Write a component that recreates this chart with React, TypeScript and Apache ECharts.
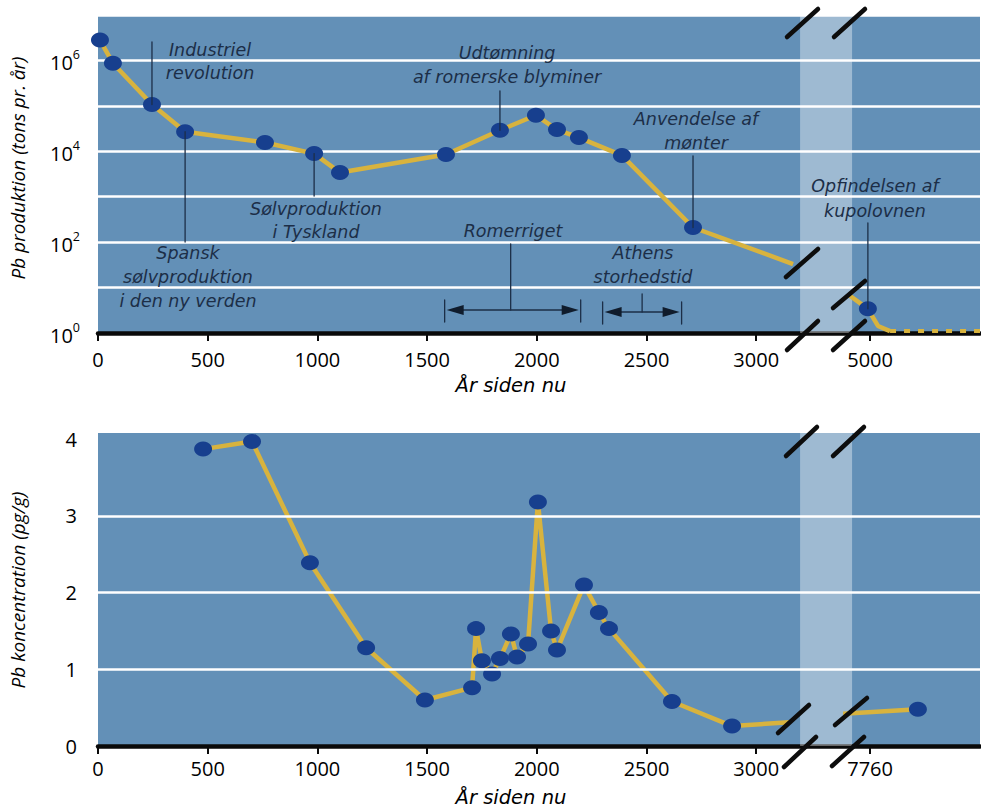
import React, { useEffect, useRef } from 'react';
import * as echarts from 'echarts';

// ---------- data: lead production (tons per year) ----------
const PROD_YEARS = [9, 68, 246, 397, 761, 985, 1103, 1586, 1832, 1996, 2092, 2192, 2388, 2712];
const PROD_VALUES = [2.8e6, 8.7e5, 1.07e5, 2.7e4, 1.56e4, 8.9e3, 3.4e3, 8.5e3, 2.9e4, 6.2e4, 3.0e4, 2.0e4, 8.1e3, 210];
const PROD_LEFT_END = [3168, 33];
const PROD_RIGHT_YEARS = [4908, 4990, 5036, 5091];
const PROD_RIGHT_VALUES = [6.6, 3.4, 1.43, 1.1];
const PROD_RIGHT_MARKER = [false, true, false, false];
const PROD_DOTTED_YEARS = [5091, 5501];
const PROD_DOTTED_VALUES = [1.1, 1.1];

// ---------- data: lead concentration (pg/g) ----------
const CONC_YEARS = [479, 702, 966, 1222, 1490, 1705, 1723, 1750, 1796, 1832, 1882, 1910, 1960, 2005, 2065, 2092, 2215, 2283, 2329, 2616, 2890];
const CONC_VALUES = [3.87, 3.97, 2.39, 1.28, 0.6, 0.76, 1.53, 1.11, 0.94, 1.14, 1.46, 1.16, 1.33, 3.18, 1.5, 1.25, 2.1, 1.74, 1.53, 0.58, 0.26];
const CONC_LEFT_END = [3150, 0.31];
const CONC_RIGHT_YEARS = [7637, 7978];
const CONC_RIGHT_VALUES = [0.42, 0.48];
const CONC_RIGHT_MARKER = [false, true];

// ---------- axes ----------
const X_TICKS_LEFT = [0, 500, 1000, 1500, 2000, 2500, 3000];
const PROD_BREAK_TICK = 5000;
const CONC_BREAK_TICK = 7760;
const PROD_Y_LABEL_EXPONENTS = [0, 2, 4, 6];
const CONC_Y_TICKS = [0, 1, 2, 3, 4];
const CONC_GRID_VALUES = [1, 2, 3];

// ---------- annotations ----------
const ERA_ROMAN = [1580, 2200];
const ERA_ATHENS = [2300, 2660];

// axis break (plot coordinates)
const BREAK_START = 3200;
const BREAK_END = 3437;
const RIGHT_ANCHOR = 3519;
const X_MAX = 4020;

const toPlot = (year: number, breakTick: number) =>
  year <= BREAK_START ? year : year - breakTick + RIGHT_ANCHOR;

const BG = '#6390b7';
const LINE = '#d8b33e';
const DOT = '#173f8e';
const ANN = '#1c2e47';
const FONT = '"Open Sans", "DejaVu Sans", sans-serif';
const ANN_FONT = '"DejaVu Sans", "Open Sans", sans-serif';
const ANN_SIZE = 17.5;

function xAxisFor(gridIndex: number, breakTick: number, margin: number) {
  const ticks = [...X_TICKS_LEFT, RIGHT_ANCHOR];
  return {
    type: 'value',
    gridIndex,
    min: 0,
    max: X_MAX,
    axisLine: { show: true, onZero: false, lineStyle: { color: '#0a0a0a', width: 4.5 } },
    axisTick: { show: true, length: 8, lineStyle: { color: '#0a0a0a', width: 2 }, customValues: ticks },
    axisLabel: {
      customValues: ticks,
      margin,
      color: '#000',
      fontSize: 20,
      fontFamily: FONT,
      formatter: (v: number) => (Math.abs(v - RIGHT_ANCHOR) < 1 ? String(breakTick) : String(v)),
    },
    splitLine: { show: false },
  };
}

function buildOption() {
  const prodLeft = PROD_YEARS.map((y, i) => [toPlot(y, PROD_BREAK_TICK), PROD_VALUES[i]]);
  const prodLeftData: any[] = [
    ...prodLeft,
    { value: [toPlot(PROD_LEFT_END[0], PROD_BREAK_TICK), PROD_LEFT_END[1]], symbol: 'none' },
  ];
  const prodRightData = PROD_RIGHT_YEARS.map((y, i) =>
    PROD_RIGHT_MARKER[i]
      ? [toPlot(y, PROD_BREAK_TICK), PROD_RIGHT_VALUES[i]]
      : { value: [toPlot(y, PROD_BREAK_TICK), PROD_RIGHT_VALUES[i]], symbol: 'none' }
  );
  const prodDotted = PROD_DOTTED_YEARS.map((y, i) => [toPlot(y, PROD_BREAK_TICK), PROD_DOTTED_VALUES[i]]);

  const concLeftData: any[] = [
    ...CONC_YEARS.map((y, i) => [toPlot(y, CONC_BREAK_TICK), CONC_VALUES[i]]),
    { value: [toPlot(CONC_LEFT_END[0], CONC_BREAK_TICK), CONC_LEFT_END[1]], symbol: 'none' },
  ];
  const concRightData = CONC_RIGHT_YEARS.map((y, i) =>
    CONC_RIGHT_MARKER[i]
      ? [toPlot(y, CONC_BREAK_TICK), CONC_RIGHT_VALUES[i]]
      : { value: [toPlot(y, CONC_BREAK_TICK), CONC_RIGHT_VALUES[i]], symbol: 'none' }
  );

  const lineSeries = (xi: number, data: any[], extra: any = {}) => ({
    type: 'line',
    xAxisIndex: xi,
    yAxisIndex: xi,
    data,
    z: 3,
    symbol: 'circle',
    symbolSize: [18, 15],
    itemStyle: { color: DOT },
    lineStyle: { color: LINE, width: 4.5 },
    silent: true,
    ...extra,
  });

  const band = {
    silent: true,
    itemStyle: { color: 'rgba(255,255,255,0.38)' },
    data: [[{ xAxis: BREAK_START }, { xAxis: BREAK_END }]],
  };

  return {
    animation: false,
    grid: [
      { left: 98, top: 15, width: 882, height: 318, show: true, backgroundColor: BG, borderWidth: 0 },
      { left: 98, top: 433, width: 882, height: 313, show: true, backgroundColor: BG, borderWidth: 0 },
    ],
    xAxis: [xAxisFor(0, PROD_BREAK_TICK, 16), xAxisFor(1, CONC_BREAK_TICK, 12)],
    yAxis: [
      {
        type: 'log',
        gridIndex: 0,
        min: 1,
        max: 1e7,
        logBase: 10,
        splitNumber: 7,
        axisLine: { show: false },
        axisTick: { show: false },
        splitLine: { show: true, lineStyle: { color: '#ffffff', width: 2.5 } },
        axisLabel: {
          margin: 18,
          formatter: (v: number) => {
            const e = Math.round(Math.log10(v));
            return PROD_Y_LABEL_EXPONENTS.indexOf(e) >= 0 ? `{b|10}{s|${e}}` : '';
          },
          rich: {
            b: { fontSize: 20, fontFamily: FONT, color: '#000', lineHeight: 24, verticalAlign: 'bottom' },
            s: { fontSize: 12.5, fontFamily: FONT, color: '#000', lineHeight: 12, verticalAlign: 'top' },
          },
        },
      },
      {
        type: 'value',
        gridIndex: 1,
        min: 0,
        max: 4.08,
        axisLine: { show: false },
        axisTick: { show: false },
        splitLine: { show: false },
        axisLabel: {
          customValues: CONC_Y_TICKS,
          margin: 21,
          color: '#000',
          fontSize: 20,
          fontFamily: FONT,
        },
      },
    ],
    series: [
      { type: 'line', xAxisIndex: 0, yAxisIndex: 0, data: [], z: 1, silent: true, markArea: band },
      lineSeries(0, prodLeftData),
      lineSeries(0, prodRightData),
      lineSeries(0, prodDotted, { symbol: 'none', lineStyle: { color: LINE, width: 4, type: [6, 8] } }),
      {
        type: 'line',
        xAxisIndex: 1,
        yAxisIndex: 1,
        data: [],
        z: 1,
        silent: true,
        markArea: band,
        markLine: {
          silent: true,
          symbol: 'none',
          label: { show: false },
          lineStyle: { color: '#ffffff', width: 2.5, type: 'solid' },
          data: CONC_GRID_VALUES.map((v) => ({ yAxis: v })),
        },
      },
      lineSeries(1, concLeftData),
      lineSeries(1, concRightData),
    ],
  };
}

function buildGraphics(chart: any) {
  const P = (g: number, x: number, y: number) => chart.convertToPixel({ gridIndex: g }, [x, y]);
  const els: any[] = [];
  const text = (t: string, x: number, y: number, size = ANN_SIZE, color = ANN, rot = 0, family = ANN_FONT) =>
    els.push({
      type: 'text',
      x,
      y,
      rotation: rot,
      z: 50,
      silent: true,
      style: {
        text: t,
        fill: color,
        fontSize: size,
        fontStyle: 'italic',
        fontFamily: family,
        align: 'center',
        verticalAlign: 'middle',
        textAlign: 'center',
        textVerticalAlign: 'middle',
      },
    });
  const lines = (ts: string[], x: number, ys: number[]) => ts.forEach((t, i) => text(t, x, ys[i]));
  const seg = (x1: number, y1: number, x2: number, y2: number, w = 1.3, color = ANN, z = 40) =>
    els.push({
      type: 'line',
      z,
      silent: true,
      shape: { x1, y1, x2, y2 },
      style: { stroke: color, lineWidth: w, lineCap: 'round' },
    });
  const tri = (pts: number[][]) =>
    els.push({ type: 'polygon', z: 40, silent: true, shape: { points: pts }, style: { fill: '#101c2c' } });

  const prodPt = (i: number) => P(0, toPlot(PROD_YEARS[i], PROD_BREAK_TICK), PROD_VALUES[i]);

  // Industriel revolution
  let p = prodPt(2);
  seg(p[0], 42, p[0], p[1]);
  lines(['Industriel', 'revolution'], 210, [50, 73]);
  // Spansk sølvproduktion
  p = prodPt(3);
  seg(p[0], p[1], p[0], 242);
  lines(['Spansk', 'sølvproduktion', 'i den ny verden'], 188, [253, 277, 301]);
  // Sølvproduktion i Tyskland
  p = prodPt(5);
  seg(p[0], p[1], p[0], 196);
  lines(['Sølvproduktion', 'i Tyskland'], 316, [209, 232]);
  // Udtømning
  p = prodPt(8);
  seg(p[0], 91, p[0], p[1]);
  lines(['Udtømning', 'af romerske blyminer'], 507, [53, 77]);
  // Anvendelse af mønter
  p = prodPt(13);
  seg(p[0], 156, p[0], p[1]);
  lines(['Anvendelse af', 'mønter'], 696, [119, 143]);
  // Opfindelsen af kupolovnen
  const ip = PROD_RIGHT_MARKER.indexOf(true);
  p = P(0, toPlot(PROD_RIGHT_YEARS[ip], PROD_BREAK_TICK), PROD_RIGHT_VALUES[ip]);
  seg(p[0], 223, p[0], p[1]);
  lines(['Opfindelsen af', 'kupolovnen'], 875, [186, 211]);

  // era arrows
  const arrow = (era: number[], y: number) => {
    const a = P(0, toPlot(era[0], PROD_BREAK_TICK), 1)[0];
    const b = P(0, toPlot(era[1], PROD_BREAK_TICK), 1)[0];
    seg(a, y - 10, a, y + 12, 1.3);
    seg(b, y - 10, b, y + 12, 1.3);
    seg(a + 10, y, b - 10, y, 1.6);
    tri([[a + 2, y], [a + 19, y - 5], [a + 19, y + 5]]);
    tri([[b - 2, y], [b - 19, y - 5], [b - 19, y + 5]]);
    return [a, b];
  };
  const r = arrow(ERA_ROMAN, 310);
  const rm = (r[0] + r[1]) / 2 - 2;
  seg(rm, 244, rm, 310);
  text('Romerriget', 513, 231);
  const at = arrow(ERA_ATHENS, 312);
  const am = (at[0] + at[1]) / 2;
  seg(am, 294, am, 312);
  lines(['Athens', 'storhedstid'], 643, [253, 277]);

  // axis titles
  text('Pb produktion (tons pr. år)', 18, 168, 19, '#000', Math.PI / 2, FONT);
  text('Pb koncentration (pg/g)', 18, 590, 19, '#000', Math.PI / 2, FONT);
  text('År siden nu', 511, 385, 19.5, '#000', 0, ANN_FONT);
  text('År siden nu', 511, 797, 19.5, '#000', 0, ANN_FONT);

  // axis break marks
  const brk = (x1: number, y1: number, x2: number, y2: number) => seg(x1, y1, x2, y2, 4.5, '#0d0d0d', 100);
  // top panel
  brk(787, 37, 818, 9);
  brk(834, 37, 865, 9);
  brk(786, 277, 818, 249);
  brk(833, 308, 865, 281);
  brk(787, 350, 818, 321);
  brk(833, 350, 865, 321);
  // bottom panel
  brk(786, 456, 817, 427);
  brk(833, 456, 864, 427);
  brk(778, 733, 809, 705);
  brk(835, 725, 867, 698);
  brk(784, 767, 816, 737);
  brk(832, 766, 864, 737);

  return els;
}

export default function App() {
  const ref = useRef<HTMLDivElement>(null);
  useEffect(() => {
    document.body.style.margin = '0';
    const chart = echarts.init(ref.current as HTMLDivElement, null, { renderer: 'svg' });
    chart.setOption(buildOption() as any);
    chart.setOption({ graphic: buildGraphics(chart) } as any);
    return () => chart.dispose();
  }, []);
  return <div ref={ref} style={{ width: 981, height: 809, background: '#fff' }} />;
}
